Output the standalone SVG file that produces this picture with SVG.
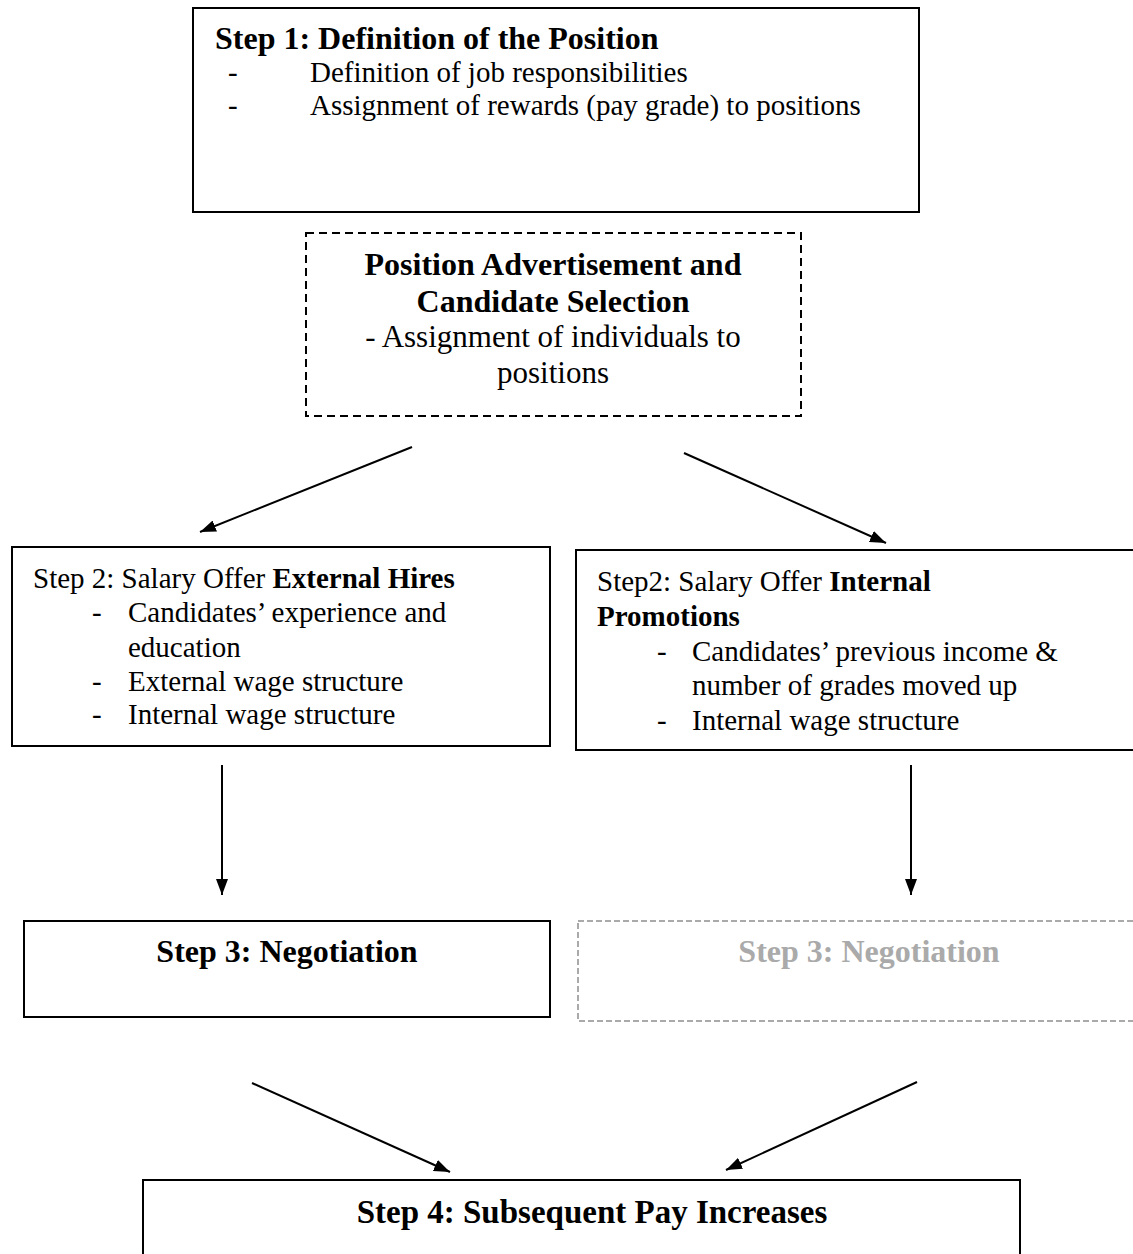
<svg xmlns="http://www.w3.org/2000/svg" width="1133" height="1254" viewBox="0 0 1133 1254">
<style>
text { font-family: "Liberation Serif", "Times New Roman", serif; fill: #000; }
.t29 { font-size: 29px; }
.t31 { font-size: 31px; }
.t32 { font-size: 32px; }
.t33 { font-size: 33px; }
.b { font-weight: bold; }
.box { fill: #fff; stroke: #000; stroke-width: 2; }
.dash { fill: #fff; stroke: #000; stroke-width: 2; stroke-dasharray: 8 5; }
.grey { fill: #fff; stroke: #aaa; stroke-width: 2; stroke-dasharray: 6 3; }
.gt { fill: #aaa; }
.c { text-anchor: middle; }
.conn line { stroke: #000; stroke-width: 2; marker-end: url(#ah); }
</style>
<defs>
<marker id="ah" viewBox="0 0 16 12" refX="16" refY="6" markerWidth="16" markerHeight="12" markerUnits="userSpaceOnUse" orient="auto">
<path d="M0,0 L16,6 L0,12 z" fill="#000"/>
</marker>
</defs>
<rect width="1133" height="1254" fill="#fff"/>

<g id="step1">
<rect class="box" x="193" y="8" width="726" height="204"/>
<text class="b t32" x="215" y="49">Step 1: Definition of the Position</text>
<text class="t29" x="228" y="82">-</text>
<text class="t29" x="310" y="82">Definition of job responsibilities</text>
<text class="t29" x="228" y="115">-</text>
<text class="t29" x="310" y="115">Assignment of rewards (pay grade) to positions</text>
</g>

<g id="selection">
<rect class="dash" x="306" y="233" width="495" height="183"/>
<text class="b c t32" x="553" y="275">Position Advertisement and</text>
<text class="b c t32" x="553" y="312">Candidate Selection</text>
<text class="c t31" x="553" y="347">- Assignment of individuals to</text>
<text class="c t31" x="553" y="383">positions</text>
</g>

<g id="step2-external">
<rect class="box" x="12" y="547" width="538" height="199"/>
<text class="t29" x="33" y="588">Step 2: Salary Offer <tspan class="b">External Hires</tspan></text>
<text class="t29" x="92" y="622">-</text>
<text class="t29" x="128" y="622">Candidates’ experience and</text>
<text class="t29" x="128" y="657">education</text>
<text class="t29" x="92" y="691">-</text>
<text class="t29" x="128" y="691">External wage structure</text>
<text class="t29" x="92" y="724">-</text>
<text class="t29" x="128" y="724">Internal wage structure</text>
</g>

<g id="step2-internal">
<rect class="box" x="576" y="550" width="570" height="200"/>
<text class="t29" x="597" y="591">Step2: Salary Offer <tspan class="b">Internal</tspan></text>
<text class="b t29" x="597" y="626">Promotions</text>
<text class="t29" x="657" y="661">-</text>
<text class="t29" x="692" y="661">Candidates’ previous income &amp;</text>
<text class="t29" x="692" y="695">number of grades moved up</text>
<text class="t29" x="657" y="730">-</text>
<text class="t29" x="692" y="730">Internal wage structure</text>
</g>

<g id="step3-left">
<rect class="box" x="24" y="921" width="526" height="96"/>
<text class="b c t32" x="287" y="962">Step 3: Negotiation</text>
</g>

<g id="step3-right">
<rect class="grey" x="578" y="921" width="570" height="100"/>
<text class="b c gt t32" x="869" y="962">Step 3: Negotiation</text>
</g>

<g id="step4">
<rect class="box" x="143" y="1180" width="877" height="100"/>
<text class="b c t33" x="592" y="1223">Step 4: Subsequent Pay Increases</text>
</g>

<g id="connectors" class="conn">
<line x1="412" y1="447" x2="200" y2="532"/>
<line x1="684" y1="453" x2="886" y2="543"/>
<line x1="222" y1="765" x2="222" y2="895"/>
<line x1="911" y1="765" x2="911" y2="895"/>
<line x1="252" y1="1083" x2="450" y2="1172"/>
<line x1="917" y1="1082" x2="726" y2="1170"/>
</g>
</svg>
